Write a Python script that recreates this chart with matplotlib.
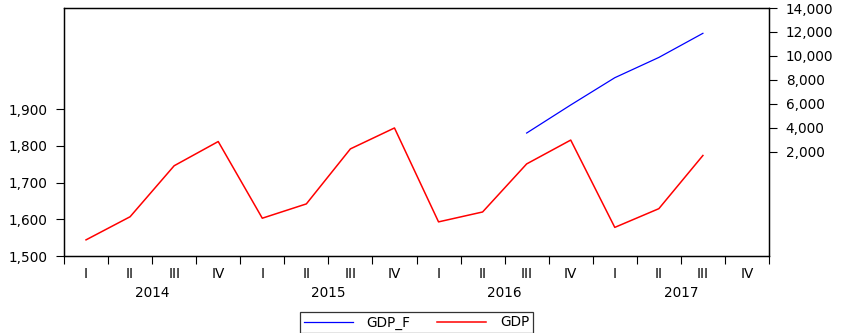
import matplotlib

matplotlib.use("Agg")
import matplotlib.pyplot as plt
from matplotlib.lines import Line2D
from matplotlib.transforms import blended_transform_factory

plt.rcParams["font.family"] = ["DejaVu Sans"]

quarters = ["I", "II", "III", "IV"] * 4
years = ["2014", "2015", "2016", "2017"]

# GDP (left axis), 2014Q1 .. 2017Q3
gdp = [1544, 1607, 1746, 1812, 1603, 1642, 1792, 1849,
       1593, 1620, 1751, 1816, 1578, 1629, 1774]
# GDP_F (right axis), 2016Q3 .. 2017Q3
gdp_f = [3580, 5920, 8190, 9880, 11890]
gdp_f_start = 10

RED = "#FF0000"
BLUE = "#0000FF"
FS = 9.8

fig = plt.figure(figsize=(8.44, 3.33), dpi=100)
ax = fig.add_axes([64 / 844, 77 / 333, 705 / 844, 248 / 333])
ax2 = ax.twinx()

xs = [i + 0.5 for i in range(len(gdp))]
ax.plot(xs, gdp, color=RED, lw=1.1)
xf = [gdp_f_start + i + 0.5 for i in range(len(gdp_f))]
ax2.plot(xf, gdp_f, color=BLUE, lw=0.9)

ax.set_xlim(0, 16)
ax.set_ylim(1500, 2176)
l_ticks = [1500, 1600, 1700, 1800, 1900]
ax.set_yticks(l_ticks)
ax.set_yticklabels([f"{v:,}" for v in l_ticks], fontsize=FS)
ax2.set_ylim(-6667, 14000)
r_ticks = [2000, 4000, 6000, 8000, 10000, 12000, 14000]
ax2.set_yticks(r_ticks)
ax2.set_yticklabels([f"{v:,}" for v in r_ticks], fontsize=FS)

# quarter boundaries as major ticks, roman numerals as minor labels
ax.set_xticks(range(17))
ax.set_xticklabels([])
ax.set_xticks([i + 0.5 for i in range(16)], minor=True)
ax.set_xticklabels(quarters, minor=True, fontsize=FS)
ax.tick_params(axis="x", which="major", direction="out", length=6, width=0.8, color="black")
ax.tick_params(axis="x", which="minor", length=0, pad=8)
ax.tick_params(axis="y", direction="out", length=6, width=0.8, pad=6)
ax2.tick_params(axis="y", direction="out", length=6, width=0.8, pad=6)

trans = blended_transform_factory(ax.transData, fig.transFigure)
for k, yr in enumerate(years):
    ax.text(4 * k + 2, 1 - 293 / 333, yr, ha="center", va="center", fontsize=FS, transform=trans)

for a in (ax, ax2):
    for s in a.spines.values():
        s.set_linewidth(0.9)
        s.set_color("black")

handles = [Line2D([], [], color=BLUE, lw=0.9), Line2D([], [], color=RED, lw=1.1)]
leg = fig.legend(handles, ["GDP_F", "GDP"], loc="center", bbox_to_anchor=(416.5 / 844, 1 - 322.5 / 333),
                 ncol=2, fontsize=FS, frameon=True, fancybox=False, handlelength=3.6,
                 columnspacing=2.0, borderpad=0.25, handletextpad=1.0, borderaxespad=0)
leg.get_frame().set_edgecolor("black")
leg.get_frame().set_linewidth(0.9)

fig.savefig("out.png", dpi=100, facecolor="white")
